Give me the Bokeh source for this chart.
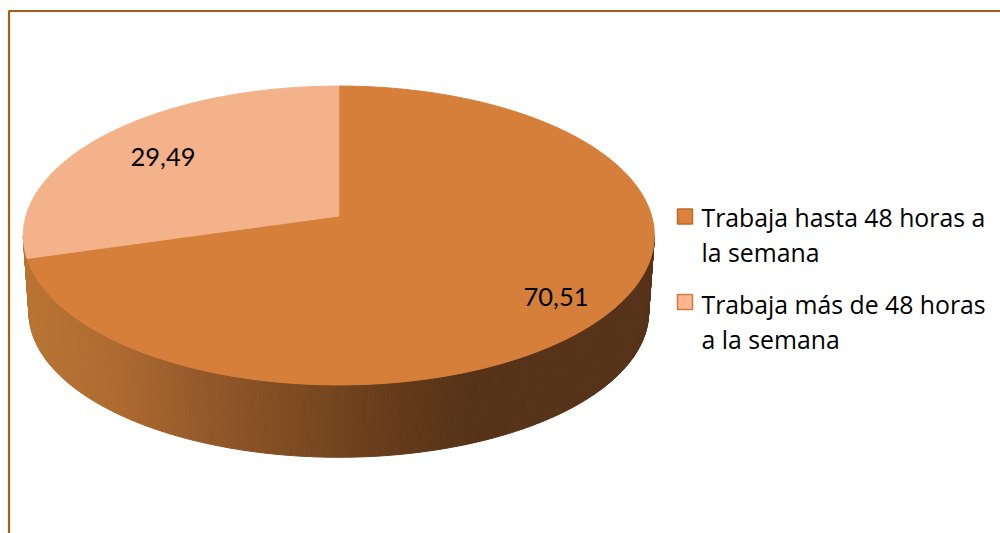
import math
from bokeh.plotting import figure
from bokeh.embed import file_html
from bokeh.resources import INLINE
from bokeh.core.properties import value
from bokeh.models import Range1d

categories = ["Trabaja hasta 48 horas a la semana", "Trabaja más de 48 horas a la semana"]
legend_lines = [["Trabaja hasta 48 horas a", "la semana"], ["Trabaja más de 48 horas", "a la semana"]]
values = [70.51, 29.49]
slice_colors = ["#D67F3B", "#F4B28B"]
legend_fill = ["#DC823A", "#FDB58E"]
legend_edge = ["#B96B2C", "#C97E45"]
wall_stops = [(24, "#B97434"), (110, "#AE6B30"), (200, "#95592A"), (300, "#7C4A21"),
              (400, "#643A1A"), (470, "#563318"), (655, "#563318")]

FONT = "Lato"
LEG_FONT = "Open Sans"
W, H = 1000, 533
p = figure(width=W, height=H, output_backend="svg", toolbar_location=None,
           x_range=Range1d(0, W), y_range=Range1d(H, 0),
           min_border=0, outline_line_color=None, background_fill_color="white",
           border_fill_color="white")
p.axis.visible = False
p.grid.visible = False

# perspective projection of the unit disc on the page (pixels)
CX, CY, D = 338.3, 215.5, 312.8
A, C = -118.8, 0.1304
def proj(theta):  # clockwise from 12 o'clock, radians
    u, v = math.sin(theta), math.cos(theta)
    k = 1 + C * v
    return CX + D * u / k, (A * v + CY) / k

ELL_CY, WALL_CY, WALL_SCALE_X, WALL_SCALE_Y = 235.5, 312.3, 0.982, 0.97
def lower(x, y):
    return CX + (x - CX) * WALL_SCALE_X, WALL_CY + (y - ELL_CY) * WALL_SCALE_Y

def hex2rgb(h):
    return tuple(int(h[i:i + 2], 16) for i in (1, 3, 5))
def wall_color(x):
    for (x0, c0), (x1, c1) in zip(wall_stops, wall_stops[1:]):
        if x <= x1:
            t = max(0, (x - x0) / (x1 - x0))
            a, b = hex2rgb(c0), hex2rgb(c1)
            return "#%02x%02x%02x" % tuple(round(a[i] + (b[i] - a[i]) * t) for i in range(3))
    return wall_stops[-1][1]

# front wall, thin strips following the rim
n = 240
t_right = math.acos(-C)
strips = [t_right + (2 * math.pi - 2 * t_right) * i / n for i in range(n + 1)]
xs, ys, cols = [], [], []
for t0, t1 in zip(strips, strips[1:]):
    a, b = proj(t0), proj(t1)
    la, lb = lower(*a), lower(*b)
    xs.append([a[0], b[0], lb[0], la[0]])
    ys.append([a[1], b[1], lb[1], la[1]])
    cols.append(wall_color((a[0] + b[0]) / 2))
p.patches(xs, ys, fill_color=cols, line_color=cols, line_width=1)

# top slices
start = 0.0
total = sum(values)
for v, col in zip(values, slice_colors):
    sweep = 2 * math.pi * v / total
    m = 200
    pts = [proj(start + sweep * i / m) for i in range(m + 1)]
    p.patch([CX] + [q[0] for q in pts], [CY] + [q[1] for q in pts],
            fill_color=col, line_color=col, line_width=1)
    start += sweep

# value labels
label_x = [555.5, 162.5]
label_y = [296, 156]
p.text(label_x, label_y, text=[f"{v:.2f}".replace(".", ",") for v in values],
       text_font=value(FONT), text_font_size="25.5px", text_color="#000000",
       text_align="center", text_baseline="middle")

# chart frame
frame = "#A85C1A"
p.line([1000, 8.5, 8.5], [10.5, 10.5, 533], line_color=frame, line_width=2.2)

# legend
sq_x, sq_y = 684.5, [216, 301.5]
p.scatter([sq_x] * 2, sq_y, marker="square", size=15, fill_color=legend_fill,
          line_color=legend_edge, line_width=1.5)
line_y = [[216, 251], [303, 338]]
for lines, ys_ in zip(legend_lines, line_y):
    p.text([701] * 2, ys_, text=lines, text_font=value(LEG_FONT), text_font_size="24.8px",
           text_color="#000000", text_align="left", text_baseline="middle")

open("out.html", "w").write(file_html(p, INLINE))
